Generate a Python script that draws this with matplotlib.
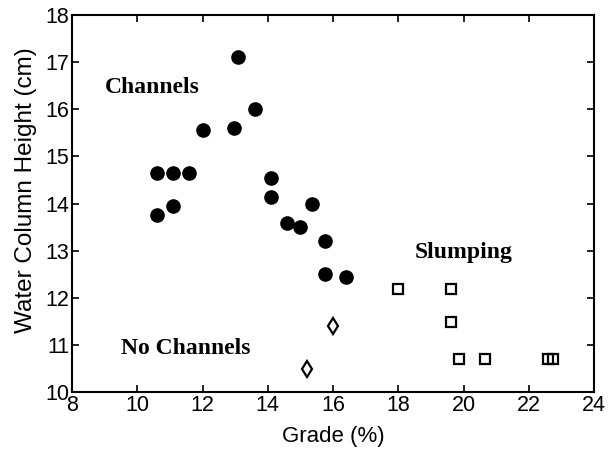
import numpy as np
import matplotlib.pyplot as plt

# datos
grade_ch = [13.1, 13.6, 12.95, 12.0, 10.6, 11.1, 11.6, 10.6, 11.1, 14.1, 14.1,
            15.35, 14.6, 15.0, 15.75, 15.75, 16.4]
height_ch = [17.1, 16.0, 15.6, 15.55, 14.65, 14.65, 14.65, 13.75, 13.95, 14.55, 14.15,
             14.0, 13.6, 13.5, 13.2, 12.5, 12.45]

grade_sl = [18.0, 19.6, 19.6, 19.85, 20.65, 22.6, 22.75]
height_sl = [12.2, 12.2, 11.5, 10.7, 10.7, 10.7, 10.7]

grade_nc = [16.0, 15.2]
height_nc = [11.4, 10.5]

plt.rcParams['font.family'] = ['Liberation Sans', 'DejaVu Sans']

fig = plt.figure(figsize=(6.1, 4.49), dpi=100)
ax = fig.add_axes([0.118, 0.126, 0.856, 0.841])

ax.plot(grade_ch, height_ch, 'o', color='black', markersize=9.5)
ax.plot(grade_sl, height_sl, 's', markerfacecolor='none', markeredgecolor='black',
        markersize=7.5, markeredgewidth=1.6)
ax.plot(grade_nc, height_nc, 'd', markerfacecolor='none', markeredgecolor='black',
        markersize=8.5, markeredgewidth=1.6)

serif = dict(family='Liberation Serif', fontweight='bold', fontsize=17)
ax.text(9.0, 16.47, 'Channels', va='center', ha='left', **serif)
ax.text(18.49, 12.97, 'Slumping', va='center', ha='left', **serif)
ax.text(9.5, 10.94, 'No Channels', va='center', ha='left', **serif)

ax.set_xlim(8, 24)
ax.set_ylim(10, 18)
ax.set_xticks(np.arange(8, 25, 2))
ax.set_yticks(np.arange(10, 19, 1))
ax.tick_params(direction='in', top=True, right=True, labelsize=15.5, length=5, width=1.2, pad=2)
for s in ax.spines.values():
    s.set_linewidth(1.5)

ax.set_xlabel('Grade (%)', fontsize=16, va='center')
ax.xaxis.set_label_coords(0.5, -0.118)
ax.set_ylabel('Water Column Height (cm)', fontsize=17.5, va='center')
ax.yaxis.set_label_coords(-0.088, 0.536)

fig.savefig('out.png', dpi=100)
